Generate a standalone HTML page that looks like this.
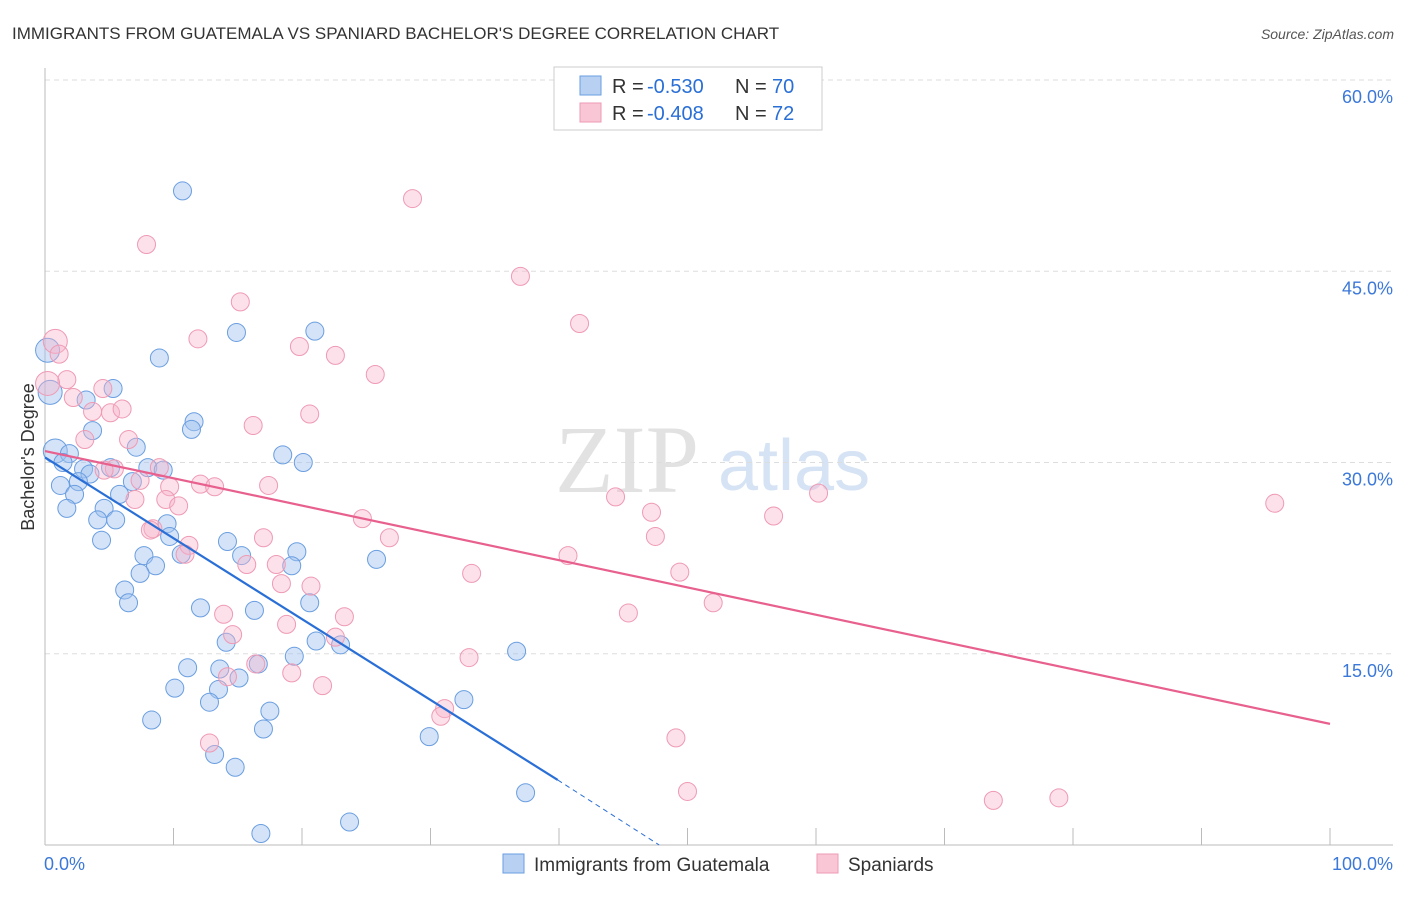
<!DOCTYPE html>
<html><head><meta charset="utf-8"><style>
body{margin:0;background:#fff;font-family:"Liberation Sans",sans-serif;}
</style></head><body>
<svg id="chart" width="1406" height="892" xmlns="http://www.w3.org/2000/svg" font-family="Liberation Sans, sans-serif">
<text x="12" y="39" font-size="17" fill="#333">IMMIGRANTS FROM GUATEMALA VS SPANIARD BACHELOR'S DEGREE CORRELATION CHART</text>
<text x="1394" y="39" font-size="14" fill="#555" font-style="italic" text-anchor="end">Source: ZipAtlas.com</text>
<g>
<text x="555" y="492" font-size="96" font-family="Liberation Serif, serif" fill="#e2e2e2">ZIP</text>
<text x="718" y="490" font-size="72" fill="#d6e3f5">atlas</text>
</g>
<g id="grid"></g>
<g id="axes"></g>
<g id="points"></g>
<g id="lines"></g>
<text transform="translate(34,457) rotate(-90)" font-size="18" fill="#333" text-anchor="middle">Bachelor's Degree</text>
<g>
<rect x="554" y="67" width="268" height="63" fill="#fff" stroke="#ccc"/>
<rect x="580" y="76" width="21" height="19" fill="#b8d1f3" stroke="#6a9ee0"/>
<rect x="580" y="103" width="21" height="19" fill="#f9c6d5" stroke="#ef9ab4"/>
<text x="612" y="93" font-size="20" fill="#333">R =</text>
<text x="647" y="93" font-size="20" fill="#2a6fd6">-0.530</text>
<text x="735" y="93" font-size="20" fill="#333">N =</text>
<text x="772" y="93" font-size="20" fill="#2a6fd6">70</text>
<text x="612" y="120" font-size="20" fill="#333">R =</text>
<text x="647" y="120" font-size="20" fill="#2a6fd6">-0.408</text>
<text x="735" y="120" font-size="20" fill="#333">N =</text>
<text x="772" y="120" font-size="20" fill="#2a6fd6">72</text>
</g>
<g>
<rect x="503" y="854" width="21" height="19" fill="#b8d1f3" stroke="#6a9ee0"/>
<text x="534" y="871" font-size="19" fill="#333">Immigrants from Guatemala</text>
<rect x="817" y="854" width="21" height="19" fill="#f9c6d5" stroke="#ef9ab4"/>
<text x="848" y="871" font-size="19" fill="#333">Spaniards</text>
</g>
</svg>
<script>
const yTicks=[15,30,45,60];
const yTickLabels=["15.0%","30.0%","45.0%","60.0%"];
const xTickLabels=["0.0%","100.0%"];
const blueX=[10.7,14.9,21.0,8.9,0.2,0.4,5.3,3.2,11.6,11.4,3.7,7.1,18.5,20.1,0.8,1.9,1.4,3.0,5.1,8.0,9.2,3.5,1.2,2.6,6.8,5.8,2.3,4.6,1.7,5.5,4.1,9.5,9.7,4.4,14.2,15.3,19.6,7.7,8.6,10.6,19.2,25.8,7.4,6.2,6.5,12.1,16.3,20.6,14.1,21.1,23.0,19.4,36.7,11.1,13.6,16.6,15.1,10.1,13.5,12.8,17.5,32.6,8.3,17.0,13.2,29.9,14.8,37.4,23.7,16.8];
const blueY=[51.3,40.2,40.3,38.2,38.8,35.5,35.8,34.9,33.2,32.6,32.5,31.2,30.6,30.0,30.9,30.7,30.0,29.5,29.6,29.6,29.4,29.1,28.2,28.5,28.5,27.5,27.5,26.4,26.4,25.5,25.5,25.2,24.2,23.9,23.8,22.7,23.0,22.7,21.9,22.8,21.9,22.4,21.3,20.0,19.0,18.6,18.4,19.0,15.9,16.0,15.7,14.8,15.2,13.9,13.8,14.2,13.1,12.3,12.2,11.2,10.5,11.4,9.8,9.1,7.1,8.5,6.1,4.1,1.8,0.9];
const pinkX=[28.6,7.9,37.0,15.2,41.6,0.8,11.9,1.1,19.8,22.6,25.7,1.7,4.5,0.2,2.2,5.1,3.7,6.0,20.6,16.2,3.1,6.5,8.9,5.4,7.4,9.7,12.1,13.2,17.4,7.0,9.4,10.4,44.4,60.2,95.7,24.7,47.2,56.7,8.4,47.5,17.0,26.8,11.2,10.9,40.7,15.7,18.0,33.2,49.4,20.7,18.4,52.0,13.9,45.4,23.3,14.6,18.8,22.6,33.0,16.4,14.2,19.2,21.6,31.1,30.8,12.8,49.1,50.0,73.8,78.9,8.2,4.6];
const pinkY=[50.7,47.1,44.6,42.6,40.9,39.5,39.7,38.5,39.1,38.4,36.9,36.5,35.8,36.2,35.1,33.9,34.0,34.2,33.8,32.9,31.8,31.8,29.6,29.5,28.6,28.1,28.3,28.1,28.2,27.1,27.1,26.6,27.3,27.6,26.8,25.6,26.1,25.8,24.8,24.2,24.1,24.1,23.5,22.8,22.7,22.0,22.0,21.3,21.4,20.3,20.5,19.0,18.1,18.2,17.9,16.5,17.3,16.3,14.7,14.2,13.2,13.5,12.5,10.7,10.1,8.0,8.4,4.2,3.5,3.7,24.7,29.4];
const blueLine=[[0,30.4],[39.9,5.1]];
const blueDash=[[39.9,5.1],[47.8,0]];
const pinkLine=[[0,30.9],[100,9.5]];
const NS="http://www.w3.org/2000/svg";
const X0=45,X1=1330,Y0=845,PPU=12.75;
function sx(v){return X0+(X1-X0)*v/100;}
function sy(v){return Y0-PPU*v;}
function mk(tag,attrs,parent){const e=document.createElementNS(NS,tag);for(const k in attrs)e.setAttribute(k,attrs[k]);document.getElementById(parent).appendChild(e);return e;}
yTicks.forEach((t,i)=>{
 const g=mk('line',{x1:X0,x2:1393,y1:sy(t),y2:sy(t),stroke:'#ddd','stroke-dasharray':'5,4'},'grid');
 
 
 const l=mk('text',{x:1393,y:sy(t)+23,'font-size':18,fill:'#3b78d8','text-anchor':'end'},'axes');
 l.textContent=yTickLabels[i];
 
 
});
const ya=mk('line',{x1:X0,x2:X0,y1:68,y2:Y0,stroke:'#bbb'},'axes');


const xa=mk('line',{x1:X0,x2:1393,y1:Y0,y2:Y0,stroke:'#bbb'},'axes');


for(let i=0;i<=10;i++){
 const t=mk('line',{x1:sx(i*10),x2:sx(i*10),y1:828,y2:Y0,stroke:'#bbb'},'axes');
 
 
}
const xl0=mk('text',{x:44,y:870,'font-size':18,fill:'#3b78d8'},'axes');xl0.textContent=xTickLabels[0];


const xl1=mk('text',{x:1393,y:870,'font-size':18,fill:'#3b78d8','text-anchor':'end'},'axes');xl1.textContent=xTickLabels[1];


function pts(xs,ys,fill,stroke,name){xs.forEach((x,i)=>{
 const r=(x<1)?12:9;
 const c=mk('circle',{cx:sx(x),cy:sy(ys[i]),r:r,fill:fill,stroke:stroke,'stroke-width':1},'points');
 
 
});}
pts(blueX,blueY,'rgba(160,194,240,0.45)','#6a9ee0','guatemala-point');
pts(pinkX,pinkY,'rgba(248,180,202,0.4)','#ef9ab4','spaniard-point');
function ln(p,stroke,w,dash,name){const a={x1:sx(p[0][0]),y1:sy(p[0][1]),x2:sx(p[1][0]),y2:sy(p[1][1]),stroke:stroke,'stroke-width':w};if(dash)a['stroke-dasharray']=dash;
 const l=mk('line',a,'lines');
 
 }
ln(blueLine,'#2a6fd6',2.2,null,'guatemala-trend-line');
ln(blueDash,'#2a6fd6',1,'5,4','guatemala-trend-extension');
ln(pinkLine,'#e8608e',2.2,null,'spaniard-trend-line');
</script>
</body></html>
